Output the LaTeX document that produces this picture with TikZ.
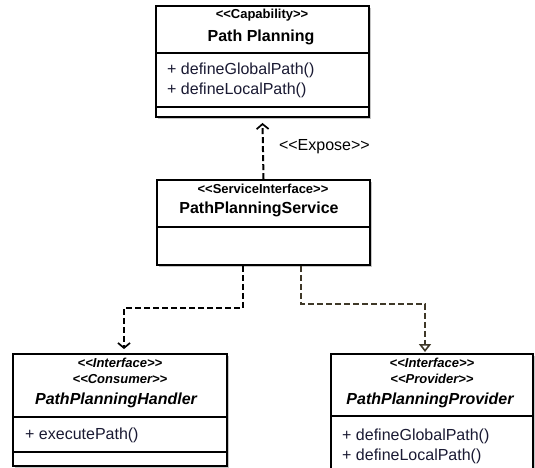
\documentclass[tikz,border=0pt]{standalone}
\usepackage{fontspec}
\setmainfont{Liberation Sans}
\usetikzlibrary{arrows.meta,positioning,calc,shadows}
\definecolor{umlink}{HTML}{1A1A33}
\definecolor{umlreal}{HTML}{3F3828}
\newcommand{\stype}[1]{<\kern0pt<#1>\kern0pt>}

\begin{document}
\begin{tikzpicture}[
  x=1pt, y=-1pt,
  classbox/.style={rectangle, draw=black, line width=1.9pt, fill=white, inner sep=0pt, drop shadow={shadow xshift=2pt, shadow yshift=-2pt, opacity=0.45}},
  stereo/.style={font=\bfseries\fontsize{13}{15}\selectfont, inner sep=0pt},
  cname/.style={font=\bfseries\fontsize{16}{19}\selectfont, inner sep=0pt},
  member/.style={font=\fontsize{16}{19}\selectfont, text=umlink, inner sep=0pt, anchor=west},
  sepline/.style={line width=1.5pt},
  dep/.style={dash pattern=on 6pt off 3pt, line width=2pt, -{Straight Barb[length=5pt,width=12pt,line width=1.7pt]}},
  real/.style={dep, draw=umlreal, -{Triangle[open,length=8pt,width=12pt,line width=1.6pt]}}
]
  \useasboundingbox (0,0) rectangle (535,468);
  \clip (0,0) rectangle (535,468);

  % Capability
  \node[classbox, minimum width=213pt, minimum height=111pt] (capability) at (262.5,61.5) {};
  \node[stereo] (capstereo) at (262,15) {\stype{Capability}};
  \node[cname] (capname) at (261,37) {Path Planning};
  \draw[sepline] (capability.west |- 0,53) -- (capability.east |- 0,53);
  \node[member] (capm1) at (167,70) {+ defineGlobalPath()};
  \node[member] (capm2) at (167,90) {+ defineLocalPath()};
  \draw[sepline] (capability.west |- 0,107) -- (capability.east |- 0,107);

  % Service interface
  \node[classbox, minimum width=213pt, minimum height=85pt] (service) at (263.5,222.5) {};
  \node[stereo] (srvstereo) at (263,189) {\stype{ServiceInterface}};
  \node[cname] (srvname) at (259,209) {PathPlanningService};
  \draw[sepline] (service.west |- 0,227) -- (service.east |- 0,227);

  % Consumer
  \node[classbox, minimum width=214pt, minimum height=112pt] (handler) at (120,410) {};
  \node[stereo, font=\bfseries\itshape\fontsize{13}{15}\selectfont] (hdlstereo1) at (120,363) {\stype{Interface}};
  \node[stereo, font=\bfseries\itshape\fontsize{13}{15}\selectfont] (hdlstereo2) at (120,379) {\stype{Consumer}};
  \node[cname, font=\bfseries\itshape\fontsize{16}{19}\selectfont] (hdlname) at (116,400) {PathPlanningHandler};
  \draw[sepline] (handler.west |- 0,417) -- (handler.east |- 0,417);
  \node[member] (hdlm1) at (25,435) {+ executePath()};
  \draw[sepline] (handler.west |- 0,452) -- (handler.east |- 0,452);

  % Provider
  \node[classbox, minimum width=202pt, minimum height=130pt] (provider) at (432,419) {};
  \node[stereo, font=\bfseries\itshape\fontsize{13}{15}\selectfont] (prvstereo1) at (432,363) {\stype{Interface}};
  \node[stereo, font=\bfseries\itshape\fontsize{13}{15}\selectfont] (prvstereo2) at (432,379) {\stype{Provider}};
  \node[cname, font=\bfseries\itshape\fontsize{16}{19}\selectfont] (prvname) at (430,400) {PathPlanningProvider};
  \draw[sepline] (provider.west |- 0,416) -- (provider.east |- 0,416);
  \node[member] (prvm1) at (342,436) {+ defineGlobalPath()};
  \node[member] (prvm2) at (342,456) {+ defineLocalPath()};

  % Connectors
  \draw[dep] (service.north) -- node[pos=0.5, right=15pt, yshift=4pt, font=\fontsize{16}{19}\selectfont, inner sep=0pt] (exposelbl) {\stype{Expose}} ([yshift=-5pt]capability.south);
  \draw[dep] ([xshift=-20.5pt]service.south) -- ++(0,42) -| ([xshift=4pt,yshift=4pt]handler.north);
  \draw[real] ([xshift=37.5pt]service.south) -- ++(0,38) -| ([xshift=-7pt,yshift=1pt]provider.north);
\end{tikzpicture}
\end{document}
